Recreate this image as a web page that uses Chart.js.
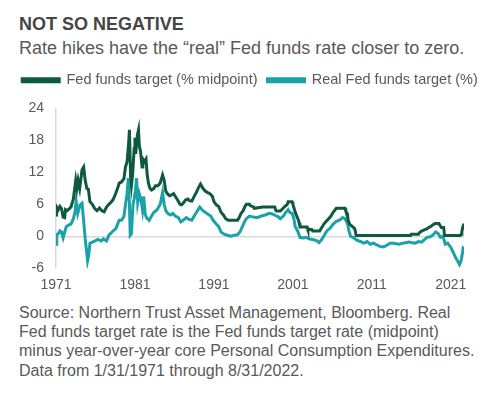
<!DOCTYPE html>
<html>
<head>
<meta charset="utf-8">
<script src="https://cdn.jsdelivr.net/npm/chart.js@4"></script>
<style>
  html, body { margin: 0; padding: 0; background: #fff; }
  body { width: 500px; height: 394px; position: relative; overflow: hidden; font-family: "Liberation Sans", Arial, sans-serif; }
  .txt { position: absolute; left: 19px; white-space: nowrap; }
  #title { top: 14px; font-size: 18px; line-height: 20px; font-weight: bold; color: #454545; }
  #subtitle { top: 38px; font-size: 18px; line-height: 20px; color: #595959; }
  #note { top: 303px; font-size: 16px; line-height: 19.2px; color: #595959; }
  #wrap { position: absolute; left: 0; top: 63px; width: 500px; height: 240px; }
</style>
</head>
<body>
<div id="title" class="txt">NOT SO NEGATIVE</div>
<div id="subtitle" class="txt">Rate hikes have the “real” Fed funds rate closer to zero.</div>
<div id="wrap"><canvas id="chart"></canvas></div>
<div id="note" class="txt">Source: Northern Trust Asset Management, Bloomberg. Real<br>Fed funds target rate is the Fed funds target rate (midpoint)<br>minus year-over-year core Personal Consumption Expenditures.<br>Data from 1/31/1971 through 8/31/2022.</div>
<script>
// SERIES NAMES
var seriesNames = ['Fed funds target (% midpoint)', 'Real Fed funds target (%)'];

// FED FUNDS TARGET (MIDPOINT) - dates as year fractions
var fedDates = [
  1971.00, 1971.08, 1971.30, 1971.50, 1971.70, 1971.90, 1972.10, 1972.20, 1972.40, 1972.70, 1972.90,
  1973.20, 1973.50, 1973.65, 1973.80, 1974.00, 1974.30, 1974.50, 1974.70, 1974.90, 1975.10, 1975.30,
  1975.60, 1975.90, 1976.20, 1976.50, 1976.80, 1977.10, 1977.40, 1977.70, 1977.90, 1978.20, 1978.50,
  1978.80, 1979.00, 1979.30, 1979.60, 1979.80, 1980.00, 1980.20, 1980.30, 1980.45, 1980.55, 1980.70,
  1980.90, 1981.00, 1981.10, 1981.30, 1981.45, 1981.55, 1981.70, 1981.90, 1982.00, 1982.20, 1982.40,
  1982.55, 1982.70, 1982.90, 1983.10, 1983.40, 1983.60, 1983.90, 1984.20, 1984.50, 1984.70, 1984.90,
  1985.10, 1985.40, 1985.70, 1985.90, 1986.10, 1986.40, 1986.70, 1986.90, 1987.10, 1987.40, 1987.70,
  1987.90, 1988.20, 1988.50, 1988.80, 1989.00, 1989.30, 1989.60, 1989.90, 1990.20, 1990.50, 1990.80,
  1991.00, 1991.30, 1991.60, 1991.90, 1992.20, 1992.50, 1992.80, 1993.50, 1994.00, 1994.20, 1994.40,
  1994.70, 1994.90, 1995.10, 1995.50, 1995.60, 1996.00, 1996.10, 1997.20, 1998.00, 1998.70, 1998.80,
  1998.90, 1999.40, 1999.60, 1999.90, 2000.10, 2000.30, 2000.40, 2000.90, 2001.00, 2001.10, 2001.30,
  2001.50, 2001.70, 2001.80, 2001.90, 2002.80, 2002.90, 2003.40, 2003.50, 2004.40, 2004.50, 2004.70,
  2004.90, 2005.20, 2005.50, 2005.80, 2006.10, 2006.50, 2007.60, 2007.70, 2007.90, 2008.00, 2008.20,
  2008.40, 2008.80, 2008.90, 2009.00, 2015.90, 2016.00, 2016.90, 2017.00, 2017.20, 2017.50, 2017.95,
  2018.20, 2018.50, 2018.70, 2019.00, 2019.50, 2019.60, 2019.70, 2019.80, 2020.10, 2020.20, 2022.20,
  2022.30, 2022.40, 2022.50, 2022.67
];
var fedValues = [
  4.0, 5.5, 5.0, 5.6, 5.2, 3.6, 3.5, 5.0, 4.8, 5.2, 5.5,
  7.0, 10.5, 9.0, 10.5, 9.0, 12.5, 13.0, 10.5, 9.0, 8.8, 6.5,
  6.0, 5.2, 4.8, 5.3, 4.8, 4.6, 5.5, 6.0, 6.3, 6.8, 7.8,
  9.0, 10.0, 10.2, 10.8, 13.0, 14.0, 17.5, 20.0, 11.0, 9.5, 11.5,
  16.5, 18.5, 15.5, 19.0, 20.0, 17.0, 16.0, 13.0, 14.5, 14.0, 14.5,
  11.5, 10.0, 9.0, 8.7, 9.0, 9.5, 9.5, 10.0, 11.5, 10.5, 8.5,
  8.0, 7.6, 7.8, 8.0, 7.5, 6.8, 6.0, 5.9, 6.2, 6.8, 7.0,
  6.7, 6.6, 7.5, 8.3, 9.0, 9.8, 9.0, 8.5, 8.2, 8.0, 7.5,
  6.5, 5.9, 5.6, 4.5, 4.0, 3.3, 3.0, 3.0, 3.0, 3.5, 4.2,
  4.8, 5.5, 6.0, 6.0, 5.75, 5.5, 5.25, 5.5, 5.5, 5.5, 5.0,
  4.75, 4.75, 5.0, 5.5, 5.75, 6.0, 6.5, 6.5, 6.0, 5.5, 4.5,
  3.75, 3.0, 2.5, 1.75, 1.75, 1.25, 1.25, 1.0, 1.0, 1.25, 1.75,
  2.25, 2.75, 3.25, 3.75, 4.5, 5.25, 5.25, 4.75, 4.25, 3.0, 2.25,
  2.0, 1.5, 1.0, 0.125, 0.125, 0.375, 0.375, 0.625, 0.875, 1.125, 1.375,
  1.625, 1.875, 2.125, 2.375, 2.375, 2.125, 1.875, 1.625, 1.625, 0.125, 0.125,
  0.375, 0.875, 1.625, 2.375
];

// REAL FED FUNDS TARGET (FED FUNDS MINUS CORE PCE)
var realDates = [
  1971.00, 1971.10, 1971.30, 1971.50, 1971.70, 1971.90, 1972.10, 1972.30, 1972.60, 1972.90, 1973.20,
  1973.40, 1973.55, 1973.75, 1974.05, 1974.30, 1974.50, 1974.70, 1974.85, 1975.00, 1975.15, 1975.30,
  1975.60, 1975.90, 1976.30, 1976.70, 1977.00, 1977.40, 1977.70, 1978.10, 1978.60, 1979.00, 1979.30,
  1979.60, 1979.85, 1980.00, 1980.15, 1980.30, 1980.40, 1980.55, 1980.75, 1980.90, 1981.05, 1981.20,
  1981.35, 1981.55, 1981.75, 1981.95, 1982.10, 1982.30, 1982.50, 1982.80, 1983.10, 1983.40, 1983.80,
  1984.20, 1984.50, 1984.70, 1984.90, 1985.20, 1985.50, 1985.80, 1986.10, 1986.50, 1986.80, 1987.10,
  1987.50, 1987.80, 1988.20, 1988.50, 1988.80, 1989.20, 1989.60, 1989.90, 1990.20, 1990.60, 1990.90,
  1991.30, 1991.60, 1991.90, 1992.30, 1992.70, 1993.20, 1993.60, 1994.00, 1994.30, 1994.60, 1994.90,
  1995.10, 1995.50, 1996.00, 1996.50, 1997.00, 1997.50, 1998.00, 1998.40, 1998.80, 1999.10, 1999.40,
  1999.80, 2000.10, 2000.40, 2000.60, 2000.90, 2001.10, 2001.30, 2001.60, 2001.90, 2002.30, 2002.70,
  2003.00, 2003.50, 2004.00, 2004.30, 2004.60, 2004.90, 2005.30, 2005.70, 2006.10, 2006.50, 2006.90,
  2007.30, 2007.60, 2007.90, 2008.10, 2008.30, 2008.60, 2008.90, 2009.20, 2009.60, 2010.00, 2010.40,
  2010.80, 2011.20, 2011.60, 2012.00, 2012.50, 2012.90, 2013.30, 2013.70, 2014.10, 2014.50, 2014.90,
  2015.30, 2015.70, 2016.10, 2016.50, 2016.90, 2017.30, 2017.70, 2018.00, 2018.40, 2018.70, 2019.10,
  2019.40, 2019.70, 2020.00, 2020.30, 2020.60, 2021.00, 2021.30, 2021.60, 2021.85, 2022.10, 2022.30,
  2022.45, 2022.55, 2022.67
];
var realValues = [
  -1.5, 0.3, 0.5, 1.0, 0.8, -0.3, 0.8, 1.8, 2.1, 2.3, 3.3,
  4.5, 6.6, 4.3, 5.9, 6.2, 3.0, -0.5, -2.5, -4.6, -3.5, -1.3,
  -1.1, -0.9, -0.6, -0.9, -0.5, -0.9, 0.2, 0.8, 1.5, 3.0, 3.0,
  3.7, 6.5, 8.0, 10.9, 6.0, 0.2, 0.5, 6.0, 7.0, 8.5, 10.9,
  6.3, 8.0, 7.0, 5.0, 7.5, 4.1, 3.4, 3.0, 3.8, 4.5, 5.0,
  6.0, 8.2, 6.0, 4.8, 4.2, 4.0, 4.3, 3.8, 3.5, 2.7, 3.0,
  3.5, 3.2, 3.0, 3.8, 4.5, 5.5, 4.8, 4.5, 4.2, 3.8, 3.0,
  2.3, 1.8, 0.8, 0.4, 0.2, 0.0, 0.2, 0.3, 0.8, 1.8, 2.8,
  3.3, 3.8, 3.6, 3.5, 3.8, 4.0, 4.3, 4.2, 3.9, 3.7, 3.3,
  3.8, 4.5, 5.0, 4.5, 4.3, 3.5, 1.8, 1.0, -0.2, -0.3, -0.2,
  -0.5, -0.6, -0.8, -1.2, -0.7, 0.0, 1.0, 1.5, 2.3, 2.8, 3.0,
  3.5, 3.3, 2.5, 1.0, 0.0, -0.2, -0.5, -0.8, -1.0, -1.3, -1.0,
  -1.5, -1.3, -1.6, -1.9, -2.0, -1.7, -1.3, -1.3, -1.4, -1.5, -1.3,
  -1.2, -1.1, -1.2, -1.3, -1.0, -1.1, -0.6, -0.2, -0.1, 0.2, 0.8,
  0.5, -0.2, 0.0, -1.5, -1.3, -2.1, -3.0, -4.0, -4.6, -5.3, -4.6,
  -3.4, -2.3, -2.5
];

// AXIS TICKS
var yearTicks = [1971, 1981, 1991, 2001, 2011, 2021];
var yMin = -6, yMax = 24, yStep = 6;
var xMin = 1971, xMax = 2022.67;

function toPoints(dates, values) {
  var pts = [];
  for (var i = 0; i < dates.length; i++) {
    pts.push({ x: dates[i], y: values[i] });
  }
  return pts;
}

// extra space under the legend
var legendGap = {
  id: 'legendGap',
  beforeInit: function(chart) {
    var origFit = chart.legend.fit;
    chart.legend.fit = function() {
      origFit.call(this);
      this.height += 11;
    };
  }
};

var ctx = document.getElementById('chart').getContext('2d');
var chart = new Chart(ctx, {
  type: 'line',
  plugins: [legendGap],
  data: {
    datasets: [{
      label: seriesNames[0],
      data: toPoints(fedDates, fedValues),
      borderColor: '#0e5a40',
      backgroundColor: '#0e5a40',
      borderWidth: 3,
      pointRadius: 0,
      tension: 0,
      yAxisID: 'y'
    }, {
      label: seriesNames[1],
      data: toPoints(realDates, realValues),
      borderColor: '#1aa2a8',
      backgroundColor: '#1aa2a8',
      borderWidth: 3,
      pointRadius: 0,
      tension: 0,
      yAxisID: 'y'
    }]
  },
  options: {
    responsive: true,
    maintainAspectRatio: false,
    animation: false,
    layout: { padding: 0 },
    plugins: {
      legend: {
        display: true,
        position: 'top',
        labels: {
          boxWidth: 37,
          boxHeight: 3,
          padding: 10,
          color: '#595959',
          font: { family: 'Liberation Sans, Arial, sans-serif', size: 14.5 }
        }
      },
      tooltip: { enabled: false }
    },
    scales: {
      x: {
        type: 'linear',
        min: xMin,
        max: xMax,
        afterBuildTicks: function(axis) {
          axis.ticks = yearTicks.map(function(v) { return { value: v }; });
        },
        grid: { display: false, drawTicks: false },
        border: { display: false },
        ticks: {
          padding: 9,
          autoSkip: false,
          maxRotation: 0,
          color: '#595959',
          font: { family: 'Liberation Sans, Arial, sans-serif', size: 14 },
          callback: function(v) { return String(v); }
        }
      },
      y: {
        min: yMin,
        max: yMax,
        afterFit: function(s) { s.width = 56; },
        ticks: {
          stepSize: yStep,
          padding: 12,
          color: '#595959',
          font: { family: 'Liberation Sans, Arial, sans-serif', size: 14 }
        },
        grid: {
          drawTicks: false,
          color: function(c) { return c.tick && c.tick.value === 0 ? '#d9d9d9' : 'rgba(0,0,0,0)'; },
          lineWidth: 1.5
        },
        border: { display: true, color: '#d9d9d9', width: 1.5 }
      },
      // empty right-hand axis only reserves space so the legend keeps full width
      yRight: {
        position: 'right',
        min: yMin,
        max: yMax,
        afterFit: function(s) { s.width = 36; },
        grid: { display: false, drawTicks: false },
        border: { display: false },
        ticks: { display: false }
      }
    }
  }
});
</script>
</body>
</html>
